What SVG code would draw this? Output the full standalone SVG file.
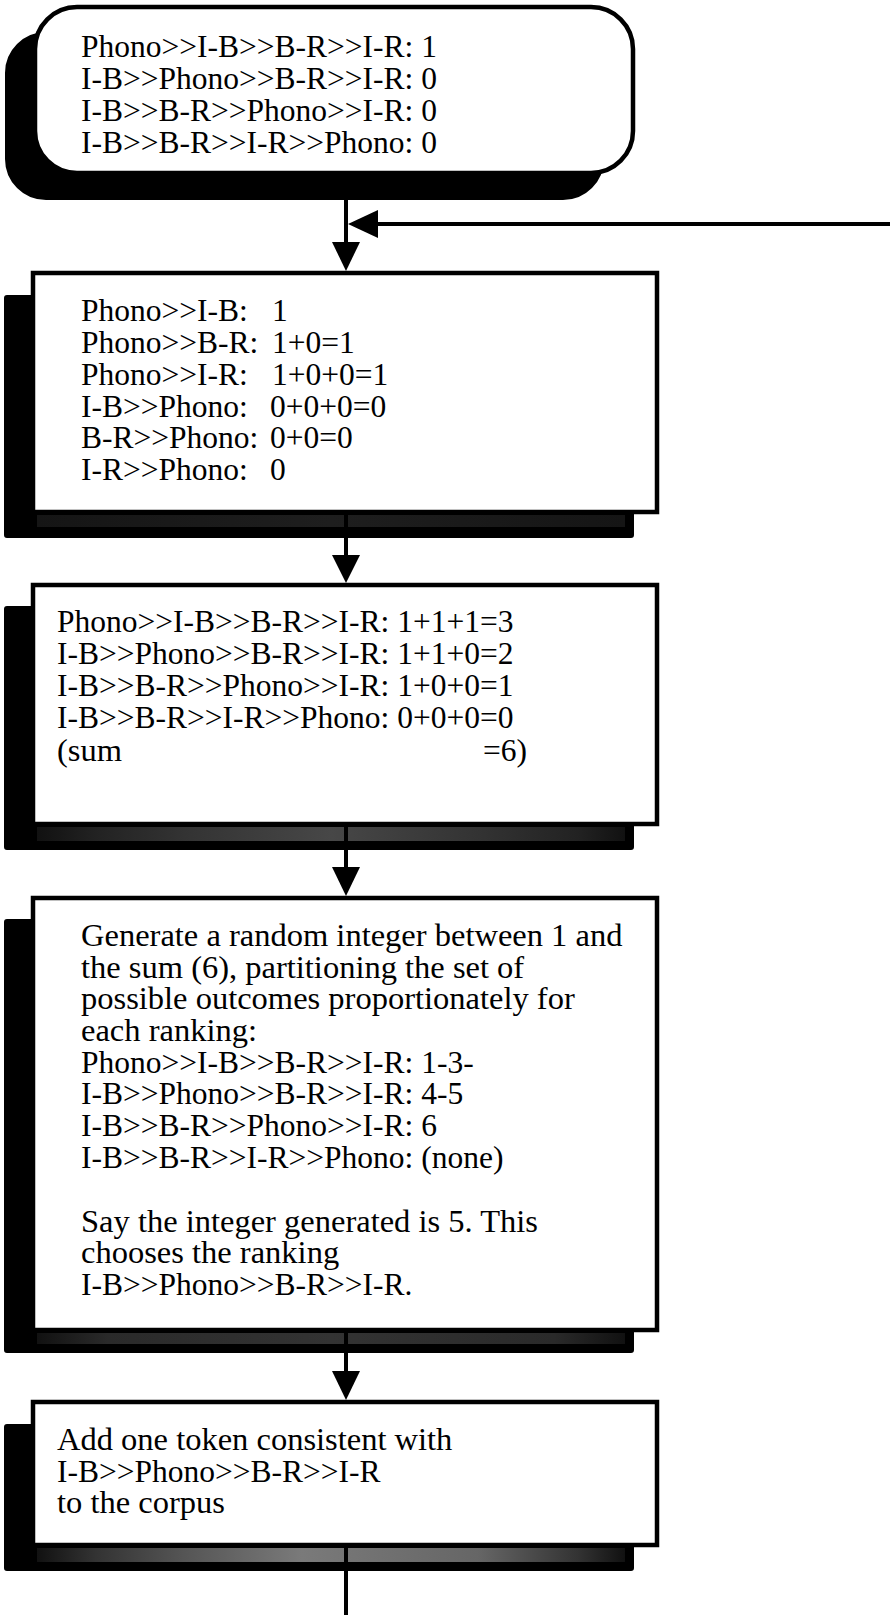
<svg xmlns="http://www.w3.org/2000/svg" width="890" height="1615" viewBox="0 0 890 1615">
<defs>
<style>
.box{fill:#ffffff;stroke:#000000;stroke-width:4.5}
.sh{fill:#000000;stroke:#000000;stroke-width:2}
.t{font-family:"Liberation Serif","Times New Roman",serif;font-size:31.5px;fill:#000000}
.p{font-size:32.5px}
.ln{stroke:#000000;stroke-width:4;fill:none}
.ah{fill:#000000}
</style>
<linearGradient id="g2" x1="0" y1="0" x2="1" y2="0">
<stop offset="0" stop-color="#151515"/><stop offset="0.5" stop-color="#1e1e1e"/><stop offset="1" stop-color="#151515"/>
</linearGradient>
<linearGradient id="g3" x1="0" y1="0" x2="1" y2="0">
<stop offset="0" stop-color="#111"/><stop offset="0.1" stop-color="#222"/><stop offset="0.25" stop-color="#333"/><stop offset="0.5" stop-color="#474747"/><stop offset="0.75" stop-color="#333"/><stop offset="0.92" stop-color="#222"/><stop offset="1" stop-color="#111"/>
</linearGradient>
<linearGradient id="g4" x1="0" y1="0" x2="1" y2="0">
<stop offset="0" stop-color="#111"/><stop offset="0.12" stop-color="#2a2a2a"/><stop offset="0.5" stop-color="#333"/><stop offset="0.88" stop-color="#2a2a2a"/><stop offset="1" stop-color="#111"/>
</linearGradient>
<linearGradient id="g5" x1="0" y1="0" x2="1" y2="0">
<stop offset="0" stop-color="#111"/><stop offset="0.1" stop-color="#333"/><stop offset="0.25" stop-color="#555"/><stop offset="0.45" stop-color="#7a7a7a"/><stop offset="0.75" stop-color="#666"/><stop offset="0.92" stop-color="#333"/><stop offset="1" stop-color="#111"/>
</linearGradient>
</defs>

<g id="node-counts">
<rect class="sh" x="6" y="33" width="597" height="166" rx="40"/>
<rect class="box" x="35" y="7" width="598" height="166" rx="42"/>
<text class="t" x="81" y="57">Phono&gt;&gt;I-B&gt;&gt;B-R&gt;&gt;I-R: 1</text>
<text class="t" x="81" y="89">I-B&gt;&gt;Phono&gt;&gt;B-R&gt;&gt;I-R: 0</text>
<text class="t" x="81" y="121">I-B&gt;&gt;B-R&gt;&gt;Phono&gt;&gt;I-R: 0</text>
<text class="t" x="81" y="153">I-B&gt;&gt;B-R&gt;&gt;I-R&gt;&gt;Phono: 0</text>
</g>

<g id="node-pairwise">
<rect class="sh" x="5" y="296" width="628" height="241" rx="2"/>
<rect x="37" y="515" width="588" height="12" fill="url(#g2)"/>
<rect class="box" x="33" y="273" width="624" height="239"/>
<text class="t" y="321"><tspan x="81">Phono&gt;&gt;I-B:</tspan><tspan x="272">1</tspan></text>
<text class="t" y="353"><tspan x="81">Phono&gt;&gt;B-R:</tspan><tspan x="272">1+0=1</tspan></text>
<text class="t" y="385"><tspan x="81">Phono&gt;&gt;I-R:</tspan><tspan x="272">1+0+0=1</tspan></text>
<text class="t" y="417"><tspan x="81">I-B&gt;&gt;Phono:</tspan><tspan x="270">0+0+0=0</tspan></text>
<text class="t" y="448"><tspan x="81">B-R&gt;&gt;Phono:</tspan><tspan x="270">0+0=0</tspan></text>
<text class="t" y="480"><tspan x="81">I-R&gt;&gt;Phono:</tspan><tspan x="270">0</tspan></text>
</g>

<g id="node-sums">
<rect class="sh" x="5" y="607" width="628" height="242" rx="2"/>
<rect x="37" y="827" width="588" height="14" fill="url(#g3)"/>
<rect class="box" x="33" y="585" width="624" height="239"/>
<text class="t" x="57" y="632">Phono&gt;&gt;I-B&gt;&gt;B-R&gt;&gt;I-R: 1+1+1=3</text>
<text class="t" x="57" y="664">I-B&gt;&gt;Phono&gt;&gt;B-R&gt;&gt;I-R: 1+1+0=2</text>
<text class="t" x="57" y="696">I-B&gt;&gt;B-R&gt;&gt;Phono&gt;&gt;I-R: 1+0+0=1</text>
<text class="t" x="57" y="728">I-B&gt;&gt;B-R&gt;&gt;I-R&gt;&gt;Phono: 0+0+0=0</text>
<text class="t" y="761"><tspan class="p" x="57">(sum</tspan><tspan x="483">=6)</tspan></text>
</g>

<g id="node-random">
<rect class="sh" x="5" y="920" width="628" height="432" rx="2"/>
<rect x="37" y="1333" width="588" height="11" fill="url(#g4)"/>
<rect class="box" x="33" y="898" width="624" height="432"/>
<text class="t p" x="81" y="946">Generate a random integer between 1 and</text>
<text class="t p" x="81" y="978">the sum (6), partitioning the set of</text>
<text class="t p" x="81" y="1009">possible outcomes proportionately for</text>
<text class="t p" x="81" y="1041">each ranking:</text>
<text class="t" x="81" y="1073">Phono&gt;&gt;I-B&gt;&gt;B-R&gt;&gt;I-R: 1-3-</text>
<text class="t" x="81" y="1104">I-B&gt;&gt;Phono&gt;&gt;B-R&gt;&gt;I-R: 4-5</text>
<text class="t" x="81" y="1136">I-B&gt;&gt;B-R&gt;&gt;Phono&gt;&gt;I-R: 6</text>
<text class="t" x="81" y="1168">I-B&gt;&gt;B-R&gt;&gt;I-R&gt;&gt;Phono: (none)</text>
<text class="t p" x="81" y="1232">Say the integer generated is 5. This</text>
<text class="t p" x="81" y="1263">chooses the ranking</text>
<text class="t" x="81" y="1295">I-B&gt;&gt;Phono&gt;&gt;B-R&gt;&gt;I-R.</text>
</g>

<g id="node-add">
<rect class="sh" x="5" y="1425" width="628" height="145" rx="2"/>
<rect x="37" y="1548" width="588" height="14" fill="url(#g5)"/>
<rect class="box" x="33" y="1402" width="624" height="143"/>
<text class="t p" x="57" y="1450">Add one token consistent with</text>
<text class="t" x="57" y="1482">I-B&gt;&gt;Phono&gt;&gt;B-R&gt;&gt;I-R</text>
<text class="t p" x="57" y="1513">to the corpus</text>
</g>

<g id="connectors">
<line class="ln" x1="346" y1="175" x2="346" y2="245"/>
<polygon class="ah" points="332,242 360,242 346,271"/>
<line class="ln" x1="890" y1="224" x2="375" y2="224"/>
<polygon class="ah" points="378,210 378,238 348,224"/>
<line class="ln" x1="346" y1="514" x2="346" y2="558"/>
<polygon class="ah" points="332,555 360,555 346,583"/>
<line class="ln" x1="346" y1="826" x2="346" y2="870"/>
<polygon class="ah" points="332,867 360,867 346,896"/>
<line class="ln" x1="346" y1="1332" x2="346" y2="1374"/>
<polygon class="ah" points="332,1371 360,1371 346,1400"/>
<line class="ln" x1="346" y1="1547" x2="346" y2="1615"/>
</g>
</svg>
